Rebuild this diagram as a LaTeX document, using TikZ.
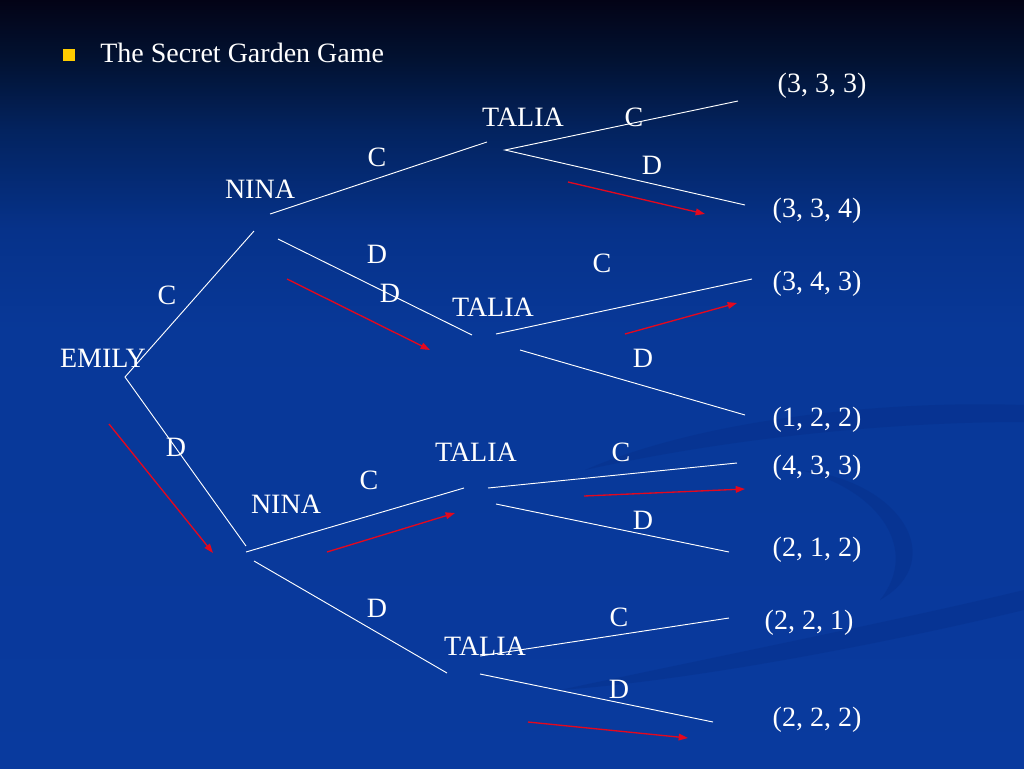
\documentclass[tikz,border=0pt]{standalone}
\usepackage{fontspec}
\setmainfont{Liberation Serif}
\usetikzlibrary{arrows.meta}
\definecolor{bgtop}{RGB}{3,3,22}
\definecolor{bgnavy}{RGB}{2,18,50}
\definecolor{bgdark}{RGB}{3,35,95}
\definecolor{bgmid}{RGB}{6,50,138}
\definecolor{bglow}{RGB}{8,56,152}
\definecolor{bgbot}{RGB}{9,58,158}
\definecolor{swoosh}{RGB}{5,42,130}
\definecolor{arrowred}{RGB}{228,8,30}
\definecolor{bulletyellow}{RGB}{255,204,0}
\pgfdeclareverticalshading{slidebg}{100bp}{color(0bp)=(bgbot); color(25bp)=(bgbot); color(53.5bp)=(bglow); color(60bp)=(bgmid); color(66.5bp)=(bgdark); color(71.1bp)=(bgnavy); color(75bp)=(bgtop); color(100bp)=(bgtop)}
\tikzset{
    mylabel/.style = {text=white, inner sep=0, font=\fontsize{21}{24}\selectfont},
    mypay/.style = {text=white, inner sep=0, font=\fontsize{21}{24}\selectfont},
    edgew/.style = {-, white, line width=0.7pt},
    edger/.style = {-{Triangle[length=7pt,width=5pt]}, arrowred, line width=1pt}, % best reply
    swooshband/.style = {fill=swoosh, opacity=0.3, draw=none}
}
\begin{document}
\begin{tikzpicture}[x=0.75pt,y=-0.75pt]
\useasboundingbox (0,0) rectangle (1024,768);
\shade[shading=slidebg] (0,0) rectangle (1024,768);
% background swooshes
\fill[swooshband] (585,470) .. controls (700,420) and (880,400) .. (1024,405) -- (1024,422) .. controls (880,422) and (720,440) .. (585,470);
\fill[swooshband] (800,470) .. controls (900,480) and (950,560) .. (880,600) .. controls (920,550) and (880,490) .. (800,470);
\fill[swooshband] (560,690) .. controls (700,660) and (900,620) .. (1024,590) -- (1024,610) .. controls (900,640) and (700,680) .. (560,690);

% title
\fill[bulletyellow] (63,49) rectangle (75,61);
\node[mylabel, anchor=west] at (100,53) (title) {The Secret Garden Game};

% players
\node[mylabel] at (103,358) (emily) {EMILY};
\node[mylabel] at (260,189) (nina1) {NINA};
\node[mylabel] at (286,504) (nina2) {NINA};
\node[mylabel] at (523,117) (talia1) {TALIA};
\node[mylabel] at (493,307) (talia2) {TALIA};
\node[mylabel] at (476,452) (talia3) {TALIA};
\node[mylabel] at (485,646) (talia4) {TALIA};

% moves
\node[mylabel] at (167,295) (ec) {C};
\node[mylabel] at (176,447) (ed) {D};
\node[mylabel] at (377,157) (n1c) {C};
\node[mylabel] at (377,254) (n1d) {D};
\node[mylabel] at (390,293) (n1dd) {D};
\node[mylabel] at (369,480) (n2c) {C};
\node[mylabel] at (377,608) (n2d) {D};
\node[mylabel] at (634,117) (t1c) {C};
\node[mylabel] at (652,165) (t1d) {D};
\node[mylabel] at (602,263) (t2c) {C};
\node[mylabel] at (643,358) (t2d) {D};
\node[mylabel] at (621,452) (t3c) {C};
\node[mylabel] at (643,520) (t3d) {D};
\node[mylabel] at (619,617) (t4c) {C};
\node[mylabel] at (619,689) (t4d) {D};

% payoffs
\node[mypay] at (822,86) (p1) {(3, 3, 3)};
\node[mypay] at (817,211) (p2) {(3, 3, 4)};
\node[mypay] at (817,284) (p3) {(3, 4, 3)};
\node[mypay] at (817,420) (p4) {(1, 2, 2)};
\node[mypay] at (817,468) (p5) {(4, 3, 3)};
\node[mypay] at (817,550) (p6) {(2, 1, 2)};
\node[mypay] at (809,623) (p7) {(2, 2, 1)};
\node[mypay] at (817,720) (p8) {(2, 2, 2)};

% branch end points
\coordinate (e0) at (125,377);
\coordinate (e1) at (254,231);
\coordinate (e2) at (246,546);
\coordinate (a1) at (270,214);
\coordinate (a2) at (487,142);
\coordinate (b1) at (278,239);
\coordinate (b2) at (472,335);
\coordinate (c1) at (246,552);
\coordinate (c2) at (464,488);
\coordinate (d1) at (254,561);
\coordinate (d2) at (447,673);
\coordinate (f0) at (505,150);
\coordinate (f1) at (738,101);
\coordinate (f2) at (745,205);
\coordinate (g1) at (496,334);
\coordinate (g2) at (752,279);
\coordinate (g3) at (520,350);
\coordinate (g4) at (745,415);
\coordinate (h1) at (488,488);
\coordinate (h2) at (737,463);
\coordinate (h3) at (496,504);
\coordinate (h4) at (729,552);
\coordinate (k1) at (480,656);
\coordinate (k2) at (729,618);
\coordinate (k3) at (480,674);
\coordinate (k4) at (713,722);

\draw[edgew] (e1) -- (e0) -- (e2);
\draw[edgew] (a1) -- (a2);
\draw[edgew] (b1) -- (b2);
\draw[edgew] (c1) -- (c2);
\draw[edgew] (d1) -- (d2);
\draw[edgew] (f1) -- (f0) -- (f2);
\draw[edgew] (g1) -- (g2);
\draw[edgew] (g3) -- (g4);
\draw[edgew] (h1) -- (h2);
\draw[edgew] (h3) -- (h4);
\draw[edgew] (k1) -- (k2);
\draw[edgew] (k3) -- (k4);

% red arrows
\coordinate (r1a) at (568,182);  \coordinate (r1b) at (705,214);
\coordinate (r2a) at (287,279);  \coordinate (r2b) at (430,350);
\coordinate (r3a) at (625,334);  \coordinate (r3b) at (737,303);
\coordinate (r4a) at (109,424);  \coordinate (r4b) at (213,553);
\coordinate (r5a) at (327,552);  \coordinate (r5b) at (455,513);
\coordinate (r6a) at (584,496);  \coordinate (r6b) at (745,489);
\coordinate (r7a) at (528,722);  \coordinate (r7b) at (688,738);
\draw[edger] (r1a) -- (r1b);
\draw[edger] (r2a) -- (r2b);
\draw[edger] (r3a) -- (r3b);
\draw[edger] (r4a) -- (r4b);
\draw[edger] (r5a) -- (r5b);
\draw[edger] (r6a) -- (r6b);
\draw[edger] (r7a) -- (r7b);

\end{tikzpicture}
\end{document}
